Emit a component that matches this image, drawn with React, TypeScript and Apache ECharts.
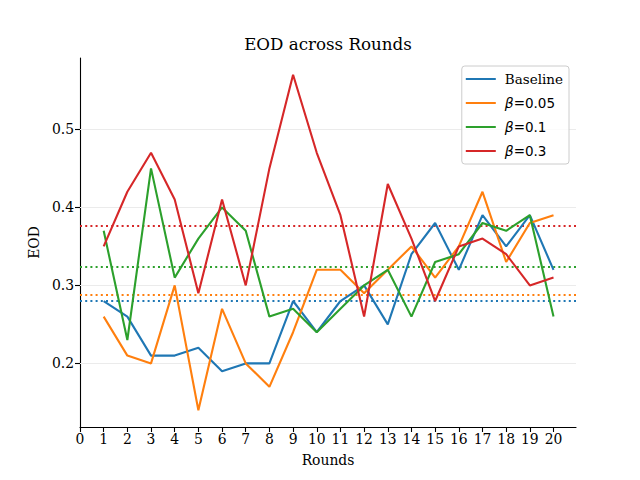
import React, { useEffect, useRef } from "react";
import * as echarts from "echarts";

const rounds = [1, 2, 3, 4, 5, 6, 7, 8, 9, 10, 11, 12, 13, 14, 15, 16, 17, 18, 19, 20];
const baseline = [0.28, 0.26, 0.21, 0.21, 0.22, 0.19, 0.2, 0.2, 0.28, 0.24, 0.28, 0.3, 0.25, 0.34, 0.38, 0.32, 0.39, 0.35, 0.39, 0.32];
const beta005 = [0.26, 0.21, 0.2, 0.3, 0.14, 0.27, 0.2, 0.17, 0.24, 0.32, 0.32, 0.29, 0.32, 0.35, 0.31, 0.35, 0.42, 0.33, 0.38, 0.39];
const beta01 = [0.37, 0.23, 0.45, 0.31, 0.36, 0.4, 0.37, 0.26, 0.27, 0.24, 0.27, 0.3, 0.32, 0.26, 0.33, 0.34, 0.38, 0.37, 0.39, 0.26];
const beta03 = [0.35, 0.42, 0.47, 0.41, 0.29, 0.41, 0.3, 0.45, 0.57, 0.47, 0.39, 0.26, 0.43, 0.36, 0.28, 0.35, 0.36, 0.34, 0.3, 0.31];
const seriesNames = ["Baseline", "β=0.05", "β=0.1", "β=0.3"];
const colors = ["#1f77b4", "#ff7f0e", "#2ca02c", "#d62728"];
const xTicks = [0, 1, 2, 3, 4, 5, 6, 7, 8, 9, 10, 11, 12, 13, 14, 15, 16, 17, 18, 19, 20];
const yTicks = [0.2, 0.3, 0.4, 0.5];

const SERIF = "'DejaVu Serif', serif";
const SANS = "'DejaVu Sans', sans-serif";

export default function App() {
  const ref = useRef<HTMLDivElement>(null);
  useEffect(() => {
    if (!ref.current) return;
    const chart = echarts.init(ref.current, null, { renderer: "svg" });
    const all = [baseline, beta005, beta01, beta03];
    const mean = (a: number[]) => a.reduce((s, v) => s + v, 0) / a.length;
    const series: any[] = all.map((vals, i) => ({
      name: seriesNames[i],
      type: "line",
      data: rounds.map((r, j) => [r, vals[j]]),
      showSymbol: false,
      symbol: "none",
      lineStyle: { color: colors[i], width: 2.1 },
      itemStyle: { color: colors[i] },
      z: 3,
      markLine: {
        silent: true,
        symbol: "none",
        precision: 6,
        label: { show: false },
        z: 2,
        lineStyle: { color: colors[i], type: [2, 3.2], width: 2.1 },
        data: [{ yAxis: mean(vals) }],
      },
    }));
    series.push({
      name: "grid",
      type: "line",
      data: [],
      z: 1,
      markLine: {
        silent: true,
        symbol: "none",
        precision: 6,
        label: { show: false },
        z: 1,
        lineStyle: { color: "#ebebeb", type: "solid", width: 1 },
        data: yTicks.map((v) => ({ yAxis: v })),
      },
    });
    chart.setOption({
      animation: false,
      title: {
        text: "EOD across Rounds",
        left: 328,
        top: 35,
        padding: 0,
        textAlign: "center",
        textStyle: { fontFamily: SERIF, fontSize: 16.7, fontWeight: "normal", color: "#000" },
      },
      grid: { left: 80, right: 64, top: 58, bottom: 53 },
      legend: {
        data: seriesNames,
        orient: "vertical",
        right: 71,
        top: 66,
        padding: [5, 6, 5, 4],
        itemGap: 8,
        itemWidth: 30,
        itemHeight: 2,
        icon: "rect",
        borderColor: "#cccccc",
        borderWidth: 1,
        borderRadius: 3,
        backgroundColor: "rgba(255,255,255,0.8)",
        formatter: (name: string) =>
          name.startsWith("β") ? `{g|β}{n|${name.slice(1)}}` : `{s|${name}}`,
        textStyle: {
          fontFamily: SERIF,
          fontSize: 13.9,
          color: "#000",
          lineHeight: 16,
          padding: [0, 0, 0, 4],
          rich: {
            s: { fontFamily: SERIF, fontSize: 13.5, color: "#000", lineHeight: 16 },
            g: { fontFamily: SANS, fontStyle: "italic", fontSize: 13.9, color: "#000", lineHeight: 16 },
            n: { fontFamily: SANS, fontSize: 13.5, color: "#000", lineHeight: 16 },
          },
        },
      },
      xAxis: {
        type: "value",
        min: 0,
        max: 20.95,
        name: "Rounds",
        nameLocation: "middle",
        nameGap: 26,
        nameTextStyle: { fontFamily: SERIF, fontSize: 13.9, color: "#000" },
        axisLine: { show: true, onZero: false, lineStyle: { color: "#000", width: 1.1 } },
        axisTick: { show: true, length: 5, customValues: xTicks, lineStyle: { color: "#000", width: 1.1 } },
        axisLabel: { customValues: xTicks, fontFamily: SERIF, fontSize: 13.9, color: "#000", margin: 5 },
        splitLine: { show: false },
      },
      yAxis: {
        type: "value",
        min: 0.1185,
        max: 0.5915,
        name: "EOD",
        nameLocation: "middle",
        nameGap: 37,
        nameRotate: 90,
        nameTextStyle: { fontFamily: SERIF, fontSize: 13.9, color: "#000" },
        axisLine: { show: true, onZero: false, lineStyle: { color: "#000", width: 1.1 } },
        axisTick: { show: true, length: 5, customValues: yTicks, lineStyle: { color: "#000", width: 1.1 } },
        axisLabel: {
          customValues: yTicks,
          fontFamily: SERIF,
          fontSize: 13.9,
          color: "#000",
          margin: 6,
          formatter: (v: number) => v.toFixed(1),
        },
        splitLine: { show: false },
      },
      series,
    });
    return () => chart.dispose();
  }, []);
  return <div ref={ref} style={{ width: 640, height: 480, margin: -8 }} />;
}
